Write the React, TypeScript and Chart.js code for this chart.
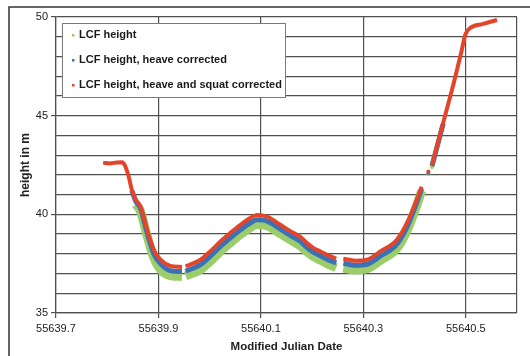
import React, { useEffect, useRef } from "react";
import { Chart, registerables } from "chart.js";

Chart.register(...registerables);

// Shared time axis (Modified Julian Date); null values mark gaps in a series
const mjd = [
  55639.792, 55639.805, 55639.818, 55639.829, 55639.835, 55639.842, 55639.848, 55639.856,
  55639.865, 55639.878, 55639.891, 55639.904, 55639.923, 55639.946, 55639.949, 55639.953,
  55639.982, 55640.001, 55640.021, 55640.04, 55640.06, 55640.079, 55640.092, 55640.112,
  55640.138, 55640.164, 55640.177, 55640.19, 55640.203, 55640.216, 55640.229, 55640.247,
  55640.254, 55640.261, 55640.284, 55640.307, 55640.333, 55640.365, 55640.385, 55640.404,
  55640.414, 55640.42, 55640.427, 55640.43, 55640.434, 55640.456, 55640.476, 55640.492,
  55640.499, 55640.508, 55640.534, 55640.561,
];

const lcfHeight = [
  null, null, null, null, null, null, null, 40.5,
  40.15, 38.9, 37.8, 37.2, 36.9, 36.85, null, 36.88,
  37.2, 37.62, 38.12, 38.55, 38.98, 39.32, 39.48, 39.42,
  39.02, 38.6, 38.4, 38.1, 37.85, 37.68, 37.5, 37.3,
  null, 37.28, 37.18, 37.24, 37.66, 38.26, 39.15, 40.42,
  41.2, null, 42.05, null, 42.4, null, null, null,
  null, null, null, null,
];

const heaveCorrected = [
  null, null, null, null, null, null, 41.2, 40.65,
  40.3, 39.05, 38.0, 37.5, 37.15, 37.1, null, 37.12,
  37.45, 37.88, 38.38, 38.8, 39.22, 39.56, 39.72, 39.66,
  39.25, 38.83, 38.63, 38.32, 38.07, 37.9, 37.73, 37.54,
  null, 37.52, 37.42, 37.47, 37.88, 38.48, 39.35, 40.58,
  41.3, null, 42.1, null, 42.45, 44.6, null, null,
  null, null, null, null,
];

const heaveSquatCorrected = [
  42.62, 42.58, 42.63, 42.64, 42.45, 41.9, 41.24, 40.73,
  40.4, 39.2, 38.2, 37.7, 37.39, 37.33, null, 37.36,
  37.7, 38.12, 38.62, 39.05, 39.47, 39.81, 39.97, 39.89,
  39.47, 39.05, 38.86, 38.54, 38.29, 38.12, 37.95, 37.76,
  null, 37.75, 37.65, 37.7, 38.12, 38.7, 39.55, 40.73,
  41.4, null, 42.17, null, 42.5, 44.65, 46.6, 48.3,
  49.1, 49.43, 49.65, 49.85,
];

const seriesNames = [
  "LCF height",
  "LCF height, heave corrected",
  "LCF height, heave and squat corrected",
];
const seriesColors = ["#9ccd6b", "#3b72b6", "#e4452a"];

const xTickValues = [55639.7, 55639.9, 55640.1, 55640.3, 55640.5];
const xMax = 55640.6;
const yLabelValues = [35, 40, 45, 50];

const FONT = '"Liberation Sans", Arial, sans-serif';
const GRID = "#505050";

function toPoints(values: (number | null)[]) {
  return mjd.map((x, i) => ({ x, y: values[i] }));
}

function isolatedRadius(values: (number | null)[]) {
  return (c: any) => {
    const i = c.dataIndex;
    const prev = i > 0 ? values[i - 1] : null;
    const next = i < values.length - 1 ? values[i + 1] : null;
    return values[i] != null && prev == null && next == null ? 2 : 0;
  };
}

const framePlugin = {
  id: "frame",
  beforeDraw(chart: any) {
    const ctx = chart.ctx;
    ctx.save();
    ctx.fillStyle = "#ffffff";
    ctx.fillRect(0, 0, chart.width, chart.height);
    ctx.strokeStyle = "#333";
    ctx.lineWidth = 1.5;
    ctx.beginPath();
    ctx.moveTo(9, chart.height);
    ctx.lineTo(9, 7);
    ctx.lineTo(chart.width, 7);
    ctx.stroke();
    ctx.restore();
  },
};

const legendPlugin = {
  id: "boxLegend",
  afterDraw(chart: any) {
    const ctx = chart.ctx;
    const a = chart.chartArea;
    const x0 = a.left + 6;
    const y0 = a.top + 6;
    const w = 223;
    const h = 74;
    ctx.save();
    ctx.fillStyle = "#ffffff";
    ctx.fillRect(x0, y0, w, h);
    ctx.strokeStyle = "#7a7a7a";
    ctx.lineWidth = 1;
    ctx.strokeRect(x0 + 0.5, y0 + 0.5, w, h);
    ctx.font = "bold 11px " + FONT;
    ctx.textBaseline = "middle";
    ctx.textAlign = "left";
    seriesNames.forEach((name, i) => {
      const cy = y0 + 12 + i * 25;
      ctx.fillStyle = seriesColors[i];
      ctx.fillRect(x0 + 10, cy - 1, 2.5, 2.5);
      ctx.fillStyle = "#1a1a1a";
      ctx.fillText(name, x0 + 17, cy);
    });
    ctx.restore();
  },
};

export default function App() {
  const ref = useRef<HTMLCanvasElement>(null);

  useEffect(() => {
    if (!ref.current) return;
    const chart = new Chart(ref.current, {
      type: "line",
      data: {
        datasets: [
          {
            label: seriesNames[2],
            data: toPoints(heaveSquatCorrected),
            borderColor: seriesColors[2],
            backgroundColor: seriesColors[2],
            borderWidth: 4,
            pointRadius: isolatedRadius(heaveSquatCorrected),
            pointBorderWidth: 0,
            order: 1,
          },
          {
            label: seriesNames[1],
            data: toPoints(heaveCorrected),
            borderColor: seriesColors[1],
            backgroundColor: seriesColors[1],
            borderWidth: 5,
            pointRadius: isolatedRadius(heaveCorrected),
            pointBorderWidth: 0,
            order: 2,
          },
          {
            label: seriesNames[0],
            data: toPoints(lcfHeight),
            borderColor: seriesColors[0],
            backgroundColor: seriesColors[0],
            borderWidth: 9,
            pointRadius: isolatedRadius(lcfHeight),
            pointBorderWidth: 0,
            order: 3,
          },
        ] as any,
      },
      plugins: [framePlugin, legendPlugin],
      options: {
        responsive: false,
        animation: false,
        spanGaps: false,
        layout: { padding: { top: 17, right: 13, bottom: 0, left: 0 } },
        elements: {
          line: {
            cubicInterpolationMode: "monotone",
            borderJoinStyle: "round",
            borderCapStyle: "butt",
          },
        },
        plugins: { legend: { display: false }, tooltip: { enabled: false } },
        scales: {
          x: {
            type: "linear",
            min: xTickValues[0],
            max: xMax,
            afterBuildTicks: (scale: any) => {
              scale.ticks = [...xTickValues, xMax].map((v) => ({ value: v }));
            },
            afterFit: (scale: any) => {
              scale.height = 43;
            },
            ticks: {
              autoSkip: false,
              maxRotation: 0,
              padding: 4,
              color: "#222",
              font: { family: FONT, size: 11 },
              callback: (v: any, i: number) => (i < xTickValues.length ? Number(v).toFixed(1) : ""),
            },
            grid: {
              color: GRID,
              lineWidth: 1.2,
              tickLength: 5,
              tickColor: (c: any) => (c.tick && c.tick.value === xMax ? "rgba(0,0,0,0)" : GRID),
            },
            border: { color: GRID, width: 1.2 },
            title: {
              display: true,
              text: "Modified Julian Date",
              color: "#222",
              font: { family: FONT, size: 11.5, weight: "bold" },
              padding: { top: 0, bottom: 2 },
            },
          },
          y: {
            min: 35,
            max: 50,
            afterFit: (scale: any) => {
              scale.width = 56;
            },
            ticks: {
              stepSize: 1,
              autoSkip: false,
              padding: 3,
              color: "#222",
              font: { family: FONT, size: 11 },
              callback: (v: any) => (yLabelValues.includes(Number(v)) ? String(v) : ""),
            },
            grid: {
              color: GRID,
              lineWidth: 1.2,
              tickLength: 5,
              tickColor: (c: any) =>
                c.tick && yLabelValues.includes(c.tick.value) ? GRID : "rgba(0,0,0,0)",
            },
            border: { color: GRID, width: 1.2 },
            title: {
              display: true,
              text: "height in m",
              color: "#222",
              font: { family: FONT, size: 12, weight: "bold" },
              padding: { top: 18, bottom: 0 },
            },
          },
        },
      } as any,
    });
    return () => chart.destroy();
  }, []);

  return (
    <div
      style={{
        position: "fixed",
        left: 0,
        top: 0,
        width: 530,
        height: 356,
        background: "#ffffff",
      }}
    >
      <canvas ref={ref} width={530} height={356} style={{ display: "block" }} />
    </div>
  );
}
